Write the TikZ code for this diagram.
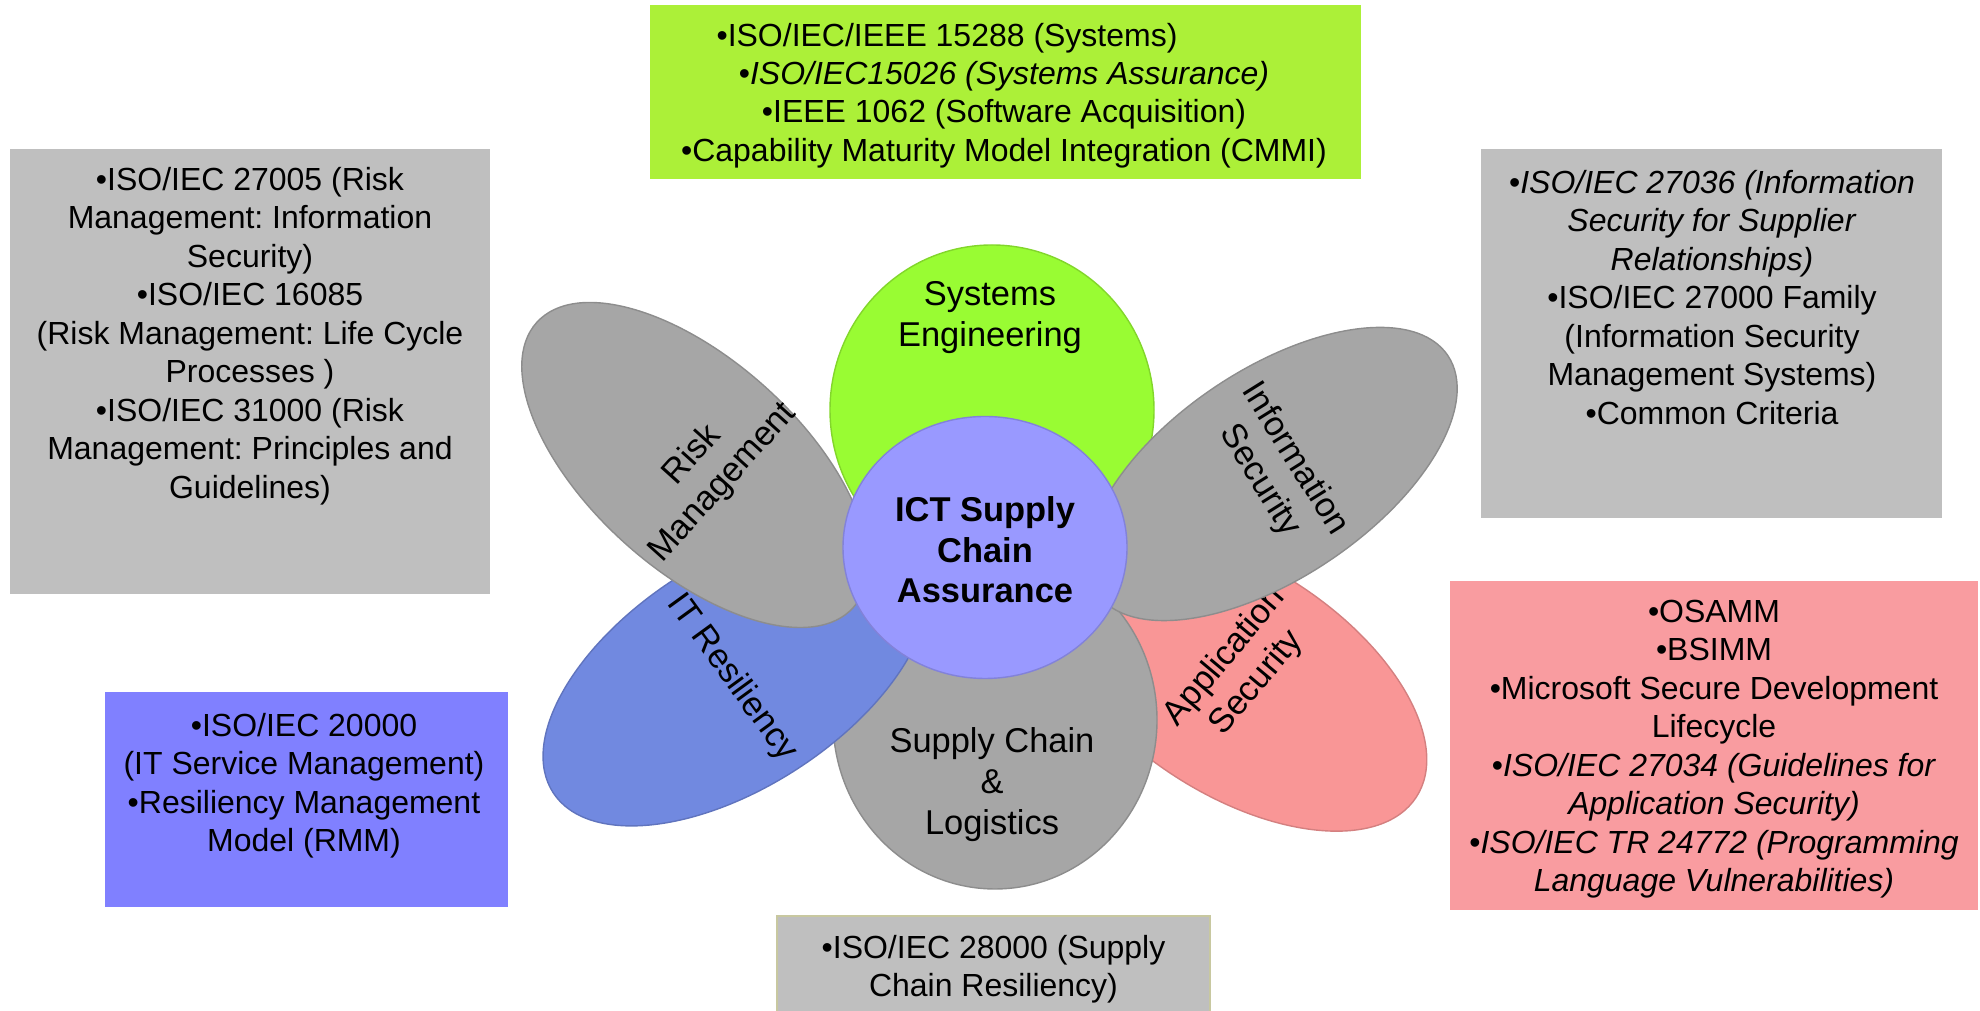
\documentclass[tikz,border=0pt]{standalone}
\usepackage{fontspec}
\setmainfont{Liberation Sans}
\usepackage{tikz}
\usetikzlibrary{shapes.geometric}
\frenchspacing

\definecolor{boxGreen}{RGB}{172,240,56}
\definecolor{boxGray}{RGB}{191,191,191}
\definecolor{boxBlue}{RGB}{128,128,255}
\definecolor{boxPink}{RGB}{249,156,160}
\definecolor{edgeOlive}{RGB}{200,200,160}
\definecolor{seGreen}{RGB}{153,252,51}
\definecolor{petalGray}{RGB}{166,166,166}
\definecolor{itBlue}{RGB}{113,137,224}
\definecolor{appPink}{RGB}{249,150,150}
\definecolor{hubBlue}{RGB}{153,153,255}

\begin{document}
\begin{tikzpicture}[
    stdbox/.style={rectangle, inner sep=0pt},
    stdtext/.style={align=center, inner sep=0pt, font=\fontsize{9.1}{10.95}\selectfont},
    petal/.style={ellipse, inner sep=0pt, draw=#1!85!black, line width=0.4pt, fill=#1},
    petaltext/.style={align=center, inner sep=0pt, font=\fontsize{9.8}{11.7}\selectfont},
]
    \useasboundingbox (0,0) rectangle (19.8,10.11);

    % Standards boxes
    \node[stdbox, fill=boxGreen, minimum width=7.11cm, minimum height=1.74cm] (seStd) at (10.055,9.19) {};
    \node[stdtext] (seStdText) at (10.04,9.155) {%
        •ISO/IEC/IEEE 15288 (Systems)\hspace*{1.14cm}\\
        •\textit{ISO/IEC15026 (Systems Assurance)}\\
        •IEEE 1062 (Software Acquisition)\\
        •Capability Maturity Model Integration (CMMI)};

    \node[stdbox, fill=boxGray, minimum width=4.80cm, minimum height=4.45cm] (rmStd) at (2.50,6.395) {};
    \node[stdtext] (rmStdText) at (2.50,6.75) {%
        •ISO/IEC 27005 (Risk\\
        Management: Information\\
        Security)\\
        •ISO/IEC 16085\\
        (Risk Management: Life Cycle\\
        Processes )\\
        •ISO/IEC 31000 (Risk\\
        Management: Principles and\\
        Guidelines)};

    \node[stdbox, fill=boxGray, minimum width=4.61cm, minimum height=3.69cm] (isStd) at (17.115,6.775) {};
    \node[stdtext] (isStdText) at (17.12,7.135) {%
        •\textit{ISO/IEC 27036 (Information}\\
        \textit{Security for Supplier}\\
        \textit{Relationships)}\\
        •ISO/IEC 27000 Family\\
        (Information Security\\
        Management Systems)\\
        •Common Criteria};

    \node[stdbox, fill=boxPink, minimum width=5.28cm, minimum height=3.29cm] (appStd) at (17.14,2.655) {};
    \node[stdtext] (appStdText) at (17.14,2.62) {%
        •OSAMM\\
        •BSIMM\\
        •Microsoft Secure Development\\
        Lifecycle\\
        •\textit{ISO/IEC 27034 (Guidelines for}\\
        \textit{Application Security)}\\
        •\textit{ISO/IEC TR 24772 (Programming}\\
        \textit{Language Vulnerabilities)}};

    \node[stdbox, fill=boxBlue, minimum width=4.03cm, minimum height=2.15cm] (itrStd) at (3.065,2.115) {};
    \node[stdtext] (itrStdText) at (3.04,2.255) {%
        •ISO/IEC 20000\\
        (IT Service Management)\\
        •Resiliency Management\\
        Model (RMM)};

    \node[stdbox, fill=boxGray, draw=edgeOlive, minimum width=4.33cm, minimum height=1.04cm] (sclStd) at (9.935,0.43) {};
    \node[stdtext] (sclStdText) at (9.935,0.42) {%
        •ISO/IEC 28000 (Supply\\
        Chain Resiliency)};

    % Petals
    \node[petal=seGreen, minimum width=3.24cm, minimum height=3.30cm] (se) at (9.92,6.01) {};
    \node[petaltext] (seText) at (9.90,6.93) {Systems\\Engineering};

    \node[petal=appPink, minimum width=4.30cm, minimum height=2.28cm, rotate=-33] (app) at (12.36,3.31) {};
    \node[petaltext, rotate=50] (appText) at (12.41,3.41) {Application\\Security};

    \node[petal=petalGray, minimum width=3.24cm, minimum height=3.38cm] (scl) at (9.95,2.91) {};
    \node[petaltext] (sclText) at (9.92,2.265) {Supply Chain\\\&\\Logistics};

    \node[petal=itBlue, minimum width=4.36cm, minimum height=2.26cm, rotate=33] (itr) at (7.36,3.37) {};
    \node[petaltext, rotate=-54] (itrText) at (7.32,3.33) {IT Resiliency};

    \node[petal=petalGray, minimum width=4.26cm, minimum height=2.10cm, rotate=-42] (rm) at (6.95,5.46) {};
    \node[petaltext, rotate=48] (rmText) at (7.08,5.42) {Risk\\Management};

    \node[petal=petalGray, minimum width=4.24cm, minimum height=2.08cm, rotate=34] (is) at (12.72,5.37) {};
    \node[petaltext, rotate=-58] (isText) at (12.77,5.41) {Information\\Security};

    % Hub
    \node[petal=hubBlue, minimum width=2.84cm, minimum height=2.62cm] (hub) at (9.85,4.635) {};
    \node[petaltext, font=\fontsize{9.8}{11.5}\selectfont\bfseries] (hubText) at (9.85,4.61) {ICT Supply\\Chain\\Assurance};
\end{tikzpicture}
\end{document}
